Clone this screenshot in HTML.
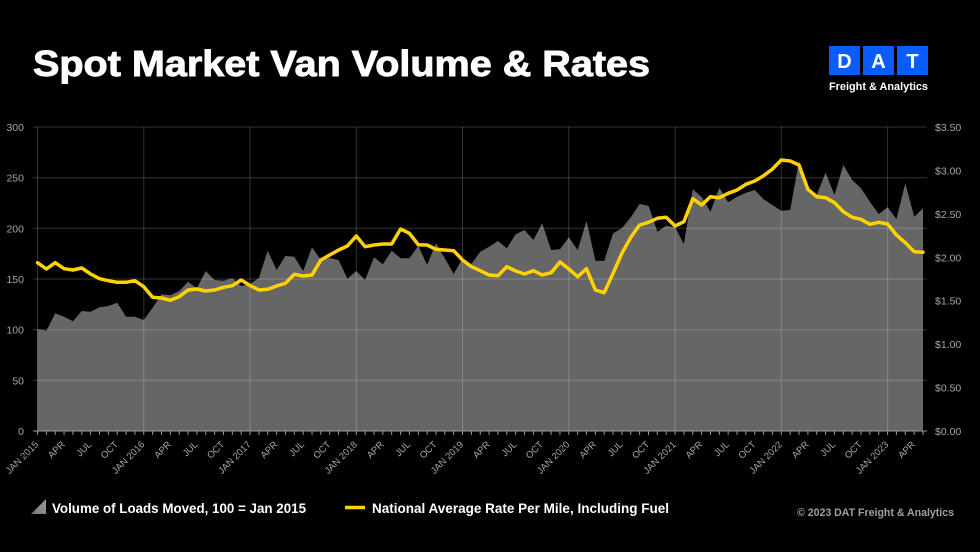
<!DOCTYPE html>
<html>
<head>
<meta charset="utf-8">
<style>
  html,body{margin:0;padding:0;background:#000;}
  body{width:980px;height:552px;overflow:hidden;}
  svg{display:block;}
</style>
</head>
<body>
<svg width="980" height="552" viewBox="0 0 980 552" xmlns="http://www.w3.org/2000/svg" font-family="'Liberation Sans', Arial, sans-serif">
  <rect x="0" y="0" width="980" height="552" fill="#000"/>

  <!-- Title -->
  <text x="33" y="76" font-size="36" font-weight="bold" fill="#fff" stroke="#fff" stroke-width="0.9" textLength="617" lengthAdjust="spacingAndGlyphs">Spot Market Van Volume &amp; Rates</text>

  <!-- DAT logo -->
  <rect x="829" y="46" width="31" height="29" fill="#0b5cff"/>
  <rect x="863" y="46" width="31" height="29" fill="#0b5cff"/>
  <rect x="897" y="46" width="31" height="29" fill="#0b5cff"/>
  <text x="844.5" y="68" font-size="20" font-weight="bold" fill="#fff" text-anchor="middle">D</text>
  <text x="878.5" y="68" font-size="20" font-weight="bold" fill="#fff" text-anchor="middle">A</text>
  <text x="912.5" y="68" font-size="20" font-weight="bold" fill="#fff" text-anchor="middle">T</text>
  <text x="829" y="90" font-size="11" font-weight="bold" fill="#fff" textLength="99" lengthAdjust="spacingAndGlyphs">Freight &amp; Analytics</text>

  <!-- Area (volume) -->
  <polygon fill="#666666" points="37.5,431 37.5,329.3 46.4,330.7 55.2,313.3 64.1,316.7 72.9,321.3 81.8,311 90.6,311.7 99.5,307.3 108.3,306 117.2,302.7 126.1,316.7 134.9,316.7 143.8,320 152.6,307.7 161.5,294.3 170.3,295.3 179.2,291 188,281.7 196.9,288.3 205.7,271 214.6,280 223.5,280.7 232.3,278.3 241.2,286 250,284 258.9,278 267.7,250.7 276.6,270 285.4,256 294.3,256.7 303.2,271 312,247.3 320.9,260 329.7,258 338.6,260 347.4,278.7 356.3,271 365.1,280 374,257.3 382.8,264.3 391.7,250.7 400.6,258.3 409.4,258.3 418.3,245.7 427.1,265 436,243.3 444.8,258.3 453.7,274 462.5,258.3 471.4,264 480.3,251.7 489.1,246.7 498,241 506.8,248.3 515.7,234.3 524.5,230 533.4,240 542.2,223.3 551.1,250 560,249.3 568.8,237.3 577.7,250 586.5,220.7 595.4,260.7 604.2,261 613.1,233.3 621.9,228.3 630.8,217.3 639.6,204 648.5,205.7 657.4,231.7 666.2,225.7 675.1,227.3 683.9,244 692.8,189.3 701.6,197 710.5,211.7 719.3,187.7 728.2,202.3 737.1,196.7 745.9,192.7 754.8,190 763.6,199.3 772.5,205 781.3,210.7 790.2,210 799,161 807.9,190 816.7,195 825.6,172.7 834.5,195 843.3,165 852.2,180 861,188.3 869.9,201.7 878.7,214 887.6,207.3 896.4,219 905.3,183.3 914.2,216.7 923,208.3 923,431"/>

  <!-- Gridlines (drawn over area) -->
  <g stroke="rgba(255,255,255,0.2)" stroke-width="1">
    <line x1="33" y1="127" x2="927" y2="127"/>
    <line x1="33" y1="177.7" x2="927" y2="177.7"/>
    <line x1="33" y1="228.3" x2="927" y2="228.3"/>
    <line x1="33" y1="279" x2="927" y2="279"/>
    <line x1="33" y1="329.7" x2="927" y2="329.7"/>
    <line x1="33" y1="380.3" x2="927" y2="380.3"/>
    <line x1="37.5" y1="127" x2="37.5" y2="431"/>
    <line x1="143.8" y1="127" x2="143.8" y2="431"/>
    <line x1="250" y1="127" x2="250" y2="431"/>
    <line x1="356.3" y1="127" x2="356.3" y2="431"/>
    <line x1="462.5" y1="127" x2="462.5" y2="431"/>
    <line x1="568.8" y1="127" x2="568.8" y2="431"/>
    <line x1="675.1" y1="127" x2="675.1" y2="431"/>
    <line x1="781.3" y1="127" x2="781.3" y2="431"/>
    <line x1="887.6" y1="127" x2="887.6" y2="431"/>
  </g>

  <!-- X axis baseline and ticks -->
  <line x1="33" y1="431" x2="927" y2="431" stroke="#9a9a9a" stroke-width="1"/>
  <line x1="37" y1="433" x2="927" y2="433" stroke="#9a9a9a" stroke-width="4" stroke-dasharray="1 7.855"/>

  <!-- Rate line -->
  <polyline fill="none" stroke="#FFD200" stroke-width="3.5" stroke-linejoin="round" stroke-linecap="round" points="37.5,262.7 46.4,269 55.2,262.7 64.1,268.7 72.9,270 81.8,268 90.6,274 99.5,278.7 108.3,280.7 117.2,282.3 126.1,282.3 134.9,280.7 143.8,286.7 152.6,297.3 161.5,298 170.3,300.3 179.2,296.7 188,290 196.9,289 205.7,291 214.6,290 223.5,287.3 232.3,285.7 241.2,280 250,285.5 258.9,290 267.7,289.3 276.6,286 285.4,283.3 294.3,274.3 303.2,276 312,275 320.9,260 329.7,255 338.6,250 347.4,246 356.3,236 365.1,246.7 374,245 382.8,244 391.7,244 400.6,229 409.4,233.3 418.3,244.7 427.1,245 436,249.3 444.8,250 453.7,250.7 462.5,260 471.4,266.7 480.3,270.7 489.1,275 498,275.7 506.8,266.7 515.7,271 524.5,274 533.4,270.7 542.2,275 551.1,272.7 560,262 568.8,269 577.7,276.7 586.5,268.7 595.4,290 604.2,292.7 613.1,273.3 621.9,253.3 630.8,237.3 639.6,225 648.5,222.3 657.4,218.3 666.2,217.3 675.1,226 683.9,221.7 692.8,198.7 701.6,205 710.5,196.7 719.3,197.7 728.2,193.3 737.1,190 745.9,184.3 754.8,181 763.6,175.7 772.5,169 781.3,160 790.2,161 799,165 807.9,189.3 816.7,196.7 825.6,197.7 834.5,202.7 843.3,211.7 852.2,217.3 861,219.3 869.9,224.3 878.7,222.3 887.6,224 896.4,235 905.3,242.7 914.2,251.7 923,252.3"/>

  <!-- Left axis labels -->
  <g font-size="10.5" fill="#a6a6a6" text-anchor="end">
    <text x="24" y="131">300</text>
    <text x="24" y="181.7">250</text>
    <text x="24" y="232.3">200</text>
    <text x="24" y="283">150</text>
    <text x="24" y="333.7">100</text>
    <text x="24" y="384.3">50</text>
    <text x="24" y="435">0</text>
  </g>

  <!-- Right axis labels -->
  <g font-size="10.5" fill="#a6a6a6" text-anchor="start">
    <text x="935" y="131">$3.50</text>
    <text x="935" y="174.4">$3.00</text>
    <text x="935" y="217.9">$2.50</text>
    <text x="935" y="261.3">$2.00</text>
    <text x="935" y="304.7">$1.50</text>
    <text x="935" y="348.1">$1.00</text>
    <text x="935" y="391.6">$0.50</text>
    <text x="935" y="435">$0.00</text>
  </g>

  <!-- X axis labels -->
  <g font-size="9.5" fill="#a6a6a6" text-anchor="end">
    <text x="39" y="445" transform="rotate(-45 39 445)">JAN 2015</text>
    <text x="65.6" y="445" transform="rotate(-45 65.6 445)">APR</text>
    <text x="92.1" y="445" transform="rotate(-45 92.1 445)">JUL</text>
    <text x="118.7" y="445" transform="rotate(-45 118.7 445)">OCT</text>
    <text x="145.3" y="445" transform="rotate(-45 145.3 445)">JAN 2016</text>
    <text x="171.8" y="445" transform="rotate(-45 171.8 445)">APR</text>
    <text x="198.4" y="445" transform="rotate(-45 198.4 445)">JUL</text>
    <text x="225" y="445" transform="rotate(-45 225 445)">OCT</text>
    <text x="251.5" y="445" transform="rotate(-45 251.5 445)">JAN 2017</text>
    <text x="278.1" y="445" transform="rotate(-45 278.1 445)">APR</text>
    <text x="304.7" y="445" transform="rotate(-45 304.7 445)">JUL</text>
    <text x="331.2" y="445" transform="rotate(-45 331.2 445)">OCT</text>
    <text x="357.8" y="445" transform="rotate(-45 357.8 445)">JAN 2018</text>
    <text x="384.4" y="445" transform="rotate(-45 384.4 445)">APR</text>
    <text x="410.9" y="445" transform="rotate(-45 410.9 445)">JUL</text>
    <text x="437.5" y="445" transform="rotate(-45 437.5 445)">OCT</text>
    <text x="464" y="445" transform="rotate(-45 464 445)">JAN 2019</text>
    <text x="490.6" y="445" transform="rotate(-45 490.6 445)">APR</text>
    <text x="517.2" y="445" transform="rotate(-45 517.2 445)">JUL</text>
    <text x="543.7" y="445" transform="rotate(-45 543.7 445)">OCT</text>
    <text x="570.3" y="445" transform="rotate(-45 570.3 445)">JAN 2020</text>
    <text x="596.9" y="445" transform="rotate(-45 596.9 445)">APR</text>
    <text x="623.4" y="445" transform="rotate(-45 623.4 445)">JUL</text>
    <text x="650" y="445" transform="rotate(-45 650 445)">OCT</text>
    <text x="676.6" y="445" transform="rotate(-45 676.6 445)">JAN 2021</text>
    <text x="703.1" y="445" transform="rotate(-45 703.1 445)">APR</text>
    <text x="729.7" y="445" transform="rotate(-45 729.7 445)">JUL</text>
    <text x="756.3" y="445" transform="rotate(-45 756.3 445)">OCT</text>
    <text x="782.8" y="445" transform="rotate(-45 782.8 445)">JAN 2022</text>
    <text x="809.4" y="445" transform="rotate(-45 809.4 445)">APR</text>
    <text x="836" y="445" transform="rotate(-45 836 445)">JUL</text>
    <text x="862.5" y="445" transform="rotate(-45 862.5 445)">OCT</text>
    <text x="889.1" y="445" transform="rotate(-45 889.1 445)">JAN 2023</text>
    <text x="915.7" y="445" transform="rotate(-45 915.7 445)">APR</text>
  </g>

  <!-- Legend -->
  <defs>
    <linearGradient id="tri" x1="0" y1="1" x2="1" y2="0">
      <stop offset="0" stop-color="#7a7a7a"/>
      <stop offset="1" stop-color="#9a9a9a"/>
    </linearGradient>
  </defs>
  <polygon points="31,514 46,499 46,514" fill="url(#tri)"/>
  <text x="52" y="513" font-size="14" font-weight="bold" fill="#fff" textLength="254" lengthAdjust="spacingAndGlyphs">Volume of Loads Moved, 100 = Jan 2015</text>
  <line x1="345" y1="507.5" x2="365" y2="507.5" stroke="#FFD200" stroke-width="3.5"/>
  <text x="372" y="513" font-size="14" font-weight="bold" fill="#fff" textLength="297" lengthAdjust="spacingAndGlyphs">National Average Rate Per Mile, Including Fuel</text>

  <!-- Copyright -->
  <text x="797" y="516" font-size="11" font-weight="bold" fill="#a0a0a0" textLength="157" lengthAdjust="spacingAndGlyphs">© 2023 DAT Freight &amp; Analytics</text>
</svg>
</body>
</html>
